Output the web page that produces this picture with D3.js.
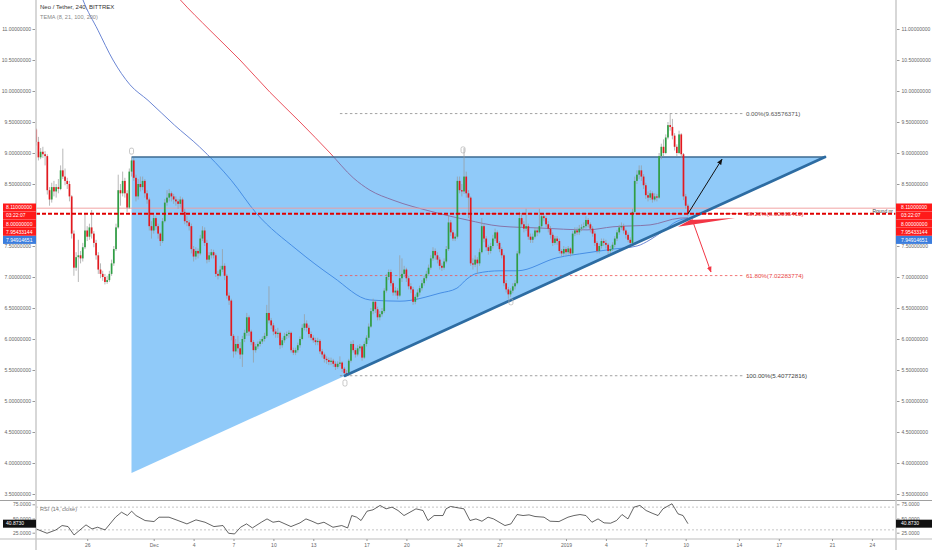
<!DOCTYPE html>
<html><head><meta charset="utf-8">
<script src="https://cdn.jsdelivr.net/npm/d3@7"></script>
<style>
body{margin:0;background:#fff}
svg{display:block}
text{font-family:"Liberation Sans",Arial,sans-serif}
</style>
</head><body>
<svg id="c" width="932" height="550"></svg>
<script>
// ---------------- DATA ----------------
const title = "Neo / Tether, 240, BITTREX";
const indicatorTitle = "TEMA (8, 21, 100, 200)";
const rsiTitle = "RSI (14, close)";
const candleStart = "2018-11-22T04:00:00Z";   // first 4h candle
const candleHours = 4;
// [open, high, low, close]
const candles = [
[9.38,9.40,9.12,9.18],[9.18,9.26,8.88,8.93],[8.93,9.08,8.90,9.02],[9.02,9.10,8.92,8.98],[8.98,9.03,8.80,8.95],
[8.95,8.98,8.33,8.40],[8.40,8.45,8.15,8.25],[8.25,8.52,8.20,8.45],[8.45,8.55,8.30,8.38],[8.38,8.50,8.28,8.45],
[8.45,8.58,8.35,8.42],[8.42,8.80,8.40,8.72],[8.72,9.07,8.58,8.62],[8.62,8.75,8.48,8.55],[8.55,8.60,8.42,8.50],
[8.50,8.55,8.22,8.30],[8.30,8.32,7.62,7.70],[7.70,7.75,7.02,7.15],[7.15,7.40,7.10,7.32],[7.32,7.60,6.92,7.35],
[7.35,7.42,7.22,7.30],[7.30,7.55,7.25,7.48],[7.48,8.02,7.45,7.75],[7.75,7.82,7.58,7.65],[7.65,7.86,7.60,7.80],
[7.80,8.08,7.62,7.70],[7.70,7.74,7.48,7.55],[7.55,7.60,7.28,7.35],[7.35,7.40,7.05,7.12],[7.12,7.22,6.98,7.05],
[7.05,7.10,6.94,7.00],[7.00,7.05,6.88,6.92],[6.92,7.02,6.89,6.95],[6.95,7.10,6.92,7.05],[7.05,7.28,7.02,7.22],
[7.22,7.50,7.18,7.45],[7.45,7.86,7.42,7.80],[7.80,8.65,7.78,8.40],[8.40,8.50,8.15,8.35],[8.35,8.70,8.30,8.55],
[8.55,8.60,8.28,8.35],[8.35,8.40,8.05,8.12],[8.12,8.75,8.10,8.70],[8.70,8.93,8.62,8.88],[8.88,8.92,8.55,8.60],
[8.60,8.65,8.22,8.30],[8.30,8.58,8.25,8.50],[8.50,8.62,8.38,8.45],[8.45,8.62,8.40,8.55],[8.55,8.58,8.28,8.35],
[8.35,8.40,8.18,8.25],[8.25,8.28,7.75,7.82],[7.82,7.90,7.62,7.75],[7.75,8.00,7.70,7.95],[7.95,7.98,7.76,7.82],
[7.82,7.86,7.62,7.70],[7.70,7.72,7.50,7.58],[7.58,7.95,7.55,7.90],[7.90,8.26,7.88,8.20],[8.20,8.40,8.15,8.28],
[8.28,8.42,8.22,8.35],[8.35,8.38,8.22,8.30],[8.30,8.34,8.18,8.25],[8.25,8.30,8.15,8.22],[8.22,8.26,8.10,8.18],
[8.18,8.30,8.12,8.25],[8.25,8.28,8.00,8.05],[8.05,8.10,7.85,7.90],[7.90,7.98,7.82,7.88],[7.88,7.92,7.75,7.82],
[7.82,7.86,7.38,7.45],[7.45,7.50,7.25,7.33],[7.33,7.48,7.28,7.42],[7.42,7.46,7.30,7.38],[7.38,7.68,7.35,7.62],
[7.62,7.82,7.58,7.75],[7.75,7.80,7.50,7.55],[7.55,7.60,7.22,7.28],[7.28,7.40,7.24,7.35],[7.35,7.45,7.30,7.40],
[7.40,7.44,7.30,7.35],[7.35,7.38,7.00,7.05],[7.05,7.10,6.96,7.02],[7.02,7.18,7.00,7.12],[7.12,7.45,7.08,7.18],
[7.18,7.22,6.95,7.02],[7.02,7.05,6.65,6.70],[6.70,6.75,6.55,6.62],[6.62,6.65,5.98,6.05],[6.05,6.08,5.70,5.80],
[5.80,6.00,5.75,5.92],[5.92,6.05,5.78,5.85],[5.85,5.95,5.68,5.75],[5.75,6.05,5.55,6.00],[6.00,6.15,5.95,6.10],
[6.10,6.42,6.05,6.35],[6.35,6.38,6.05,6.12],[6.12,6.15,5.90,5.95],[5.95,5.98,5.62,5.82],[5.82,5.92,5.78,5.88],
[5.88,5.96,5.84,5.92],[5.92,6.00,5.88,5.96],[5.96,6.04,5.92,6.00],[6.00,6.10,5.96,6.05],[6.05,6.55,6.02,6.42],
[6.42,6.85,6.25,6.30],[6.30,6.34,6.16,6.22],[6.22,6.26,6.06,6.12],[6.12,6.16,6.02,6.08],[6.08,6.18,6.02,6.10],
[6.10,6.12,5.84,5.90],[5.90,6.02,5.86,5.98],[5.98,6.10,5.94,6.05],[6.05,6.12,6.00,6.08],[6.08,6.14,6.02,6.10],
[6.10,6.12,5.78,5.82],[5.82,5.86,5.74,5.78],[5.78,5.86,5.74,5.82],[5.82,5.94,5.78,5.90],[5.90,6.04,5.86,6.00],
[6.00,6.24,5.98,6.18],[6.18,6.40,6.14,6.25],[6.25,6.30,6.12,6.18],[6.18,6.22,6.02,6.08],[6.08,6.12,5.98,6.02],
[6.02,6.06,5.94,5.98],[5.98,6.02,5.90,5.95],[5.95,6.02,5.90,5.97],[5.97,6.00,5.76,5.80],[5.80,5.84,5.70,5.75],
[5.75,5.78,5.62,5.68],[5.68,5.72,5.60,5.66],[5.66,5.70,5.58,5.63],[5.63,5.70,5.58,5.65],[5.65,5.68,5.55,5.60],
[5.60,5.64,5.50,5.55],[5.55,5.64,5.52,5.60],[5.60,5.72,5.56,5.62],[5.62,5.64,5.47,5.52],[5.52,5.55,5.41,5.45],
[5.45,5.50,5.408,5.42],[5.42,5.68,5.40,5.65],[5.65,5.96,5.62,5.92],[5.92,5.98,5.78,5.82],[5.82,5.86,5.70,5.75],
[5.75,5.90,5.72,5.85],[5.85,5.92,5.80,5.88],[5.88,5.90,5.65,5.70],[5.70,5.96,5.68,5.92],[5.92,6.06,5.88,6.02],
[6.02,6.25,5.98,6.20],[6.20,6.50,6.18,6.45],[6.45,6.65,6.40,6.60],[6.60,6.62,6.42,6.48],[6.48,6.52,6.30,6.35],
[6.35,6.45,6.30,6.40],[6.40,6.50,6.36,6.45],[6.45,6.82,6.42,6.78],[6.78,7.05,6.75,7.00],[7.00,7.12,6.95,7.08],
[7.08,7.12,6.85,6.90],[6.90,6.94,6.70,6.75],[6.75,6.84,6.70,6.78],[6.78,6.82,6.64,6.70],[6.70,7.35,6.68,6.98],
[6.98,7.30,6.92,7.05],[7.05,7.18,7.00,7.12],[7.12,7.15,6.92,6.98],[6.98,7.02,6.80,6.85],[6.85,6.90,6.74,6.80],
[6.80,6.84,6.55,6.60],[6.60,6.72,6.56,6.68],[6.68,6.80,6.64,6.75],[6.75,6.86,6.70,6.82],[6.82,6.95,6.78,6.90],
[6.90,7.02,6.86,6.98],[6.98,7.10,6.94,7.05],[7.05,7.20,7.02,7.15],[7.15,7.35,7.12,7.30],[7.30,7.48,7.26,7.42],
[7.42,7.46,7.28,7.35],[7.35,7.40,7.22,7.28],[7.28,7.32,7.12,7.18],[7.18,7.22,7.10,7.15],[7.15,7.30,7.12,7.25],
[7.25,7.50,7.22,7.45],[7.45,8.00,7.42,7.88],[7.88,7.92,7.66,7.72],[7.72,7.76,7.58,7.62],[7.62,7.70,7.58,7.65],
[7.65,8.62,7.62,8.55],[8.55,8.62,8.35,8.40],[8.40,8.50,8.30,8.38],[8.38,9.08,8.34,8.62],[8.62,8.70,8.28,8.35],
[8.35,8.40,7.95,8.28],[8.28,8.30,7.18,7.22],[7.22,7.30,7.12,7.20],[7.20,7.35,7.16,7.28],[7.28,7.32,7.05,7.22],
[7.22,7.46,7.18,7.40],[7.40,7.95,7.38,7.82],[7.82,7.86,7.56,7.62],[7.62,7.66,7.42,7.48],[7.48,7.52,7.36,7.42],
[7.42,7.55,7.38,7.50],[7.50,7.68,7.46,7.62],[7.62,7.78,7.58,7.72],[7.72,7.75,7.50,7.55],[7.55,7.58,7.40,7.45],
[7.45,7.48,7.30,7.35],[7.35,7.38,6.85,6.90],[6.90,6.95,6.75,6.80],[6.80,6.84,6.65,6.72],[6.72,6.82,6.68,6.78],
[6.78,6.90,6.74,6.85],[6.85,6.95,6.80,6.90],[6.90,7.42,6.88,7.38],[7.38,8.05,7.35,7.95],[7.95,8.02,7.80,7.85],
[7.85,7.90,7.72,7.78],[7.78,8.10,7.74,7.82],[7.82,7.86,7.60,7.65],[7.65,7.70,7.55,7.60],[7.60,7.70,7.55,7.65],
[7.65,7.80,7.62,7.75],[7.75,7.80,7.66,7.72],[7.72,8.10,7.70,7.82],[7.82,8.03,7.78,7.98],[7.98,8.02,7.90,7.95],
[7.95,7.98,7.80,7.85],[7.85,7.90,7.72,7.78],[7.78,7.82,7.62,7.68],[7.68,7.72,7.50,7.55],[7.55,7.66,7.52,7.62],
[7.62,7.66,7.52,7.58],[7.58,7.62,7.38,7.42],[7.42,7.45,7.33,7.38],[7.38,7.50,7.34,7.45],[7.45,7.48,7.35,7.40],
[7.40,7.50,7.36,7.46],[7.46,7.48,7.33,7.38],[7.38,7.74,7.36,7.70],[7.70,7.80,7.66,7.75],[7.75,7.80,7.68,7.72],
[7.72,7.84,7.68,7.78],[7.78,7.85,7.74,7.80],[7.80,7.88,7.76,7.82],[7.82,7.98,7.78,7.92],[7.92,7.95,7.80,7.85],
[7.85,7.88,7.72,7.78],[7.78,7.82,7.65,7.70],[7.70,7.74,7.50,7.55],[7.55,7.58,7.38,7.42],[7.42,7.54,7.38,7.50],
[7.50,7.62,7.46,7.58],[7.58,7.62,7.50,7.55],[7.55,7.60,7.46,7.52],[7.52,7.55,7.36,7.42],[7.42,7.50,7.38,7.45],
[7.45,7.56,7.42,7.52],[7.52,7.66,7.48,7.62],[7.62,7.76,7.58,7.72],[7.72,7.84,7.68,7.80],[7.80,7.88,7.76,7.82],
[7.82,7.86,7.70,7.75],[7.75,7.78,7.62,7.68],[7.68,7.72,7.56,7.60],[7.60,7.64,7.50,7.55],[7.55,8.10,7.52,8.05],
[8.05,8.62,8.02,8.55],[8.55,8.72,8.50,8.65],[8.65,8.80,8.58,8.72],[8.72,8.80,8.55,8.62],[8.62,8.66,8.42,8.48],
[8.48,8.52,8.26,8.32],[8.32,8.38,8.22,8.28],[8.28,8.40,8.24,8.35],[8.35,8.38,8.20,8.25],[8.25,8.35,8.22,8.30],
[8.30,8.34,8.22,8.28],[8.28,9.00,8.26,8.95],[8.95,9.15,8.90,9.10],[9.10,9.22,8.95,9.00],[9.00,9.30,8.98,9.25],
[9.25,9.50,9.22,9.45],[9.45,9.64,9.36,9.42],[9.42,9.55,9.22,9.28],[9.28,9.32,9.04,9.10],[9.10,9.14,8.95,9.00],
[9.00,9.36,8.98,9.30],[9.30,9.32,8.92,8.98],[8.98,9.00,8.24,8.30],[8.30,8.34,8.10,8.15],[8.15,8.18,7.98,8.02]
];
const priceTicks = [3.5,4,4.5,5,5.5,6,6.5,7,7.5,8,8.5,9,9.5,10,10.5,11];
const hiddenPriceTick = 8;          // covered by the price tags
const rsiTicks = [25,50,75];
const timeTickDates  = ["2018-11-26","2018-12-01","2018-12-04","2018-12-07","2018-12-10","2018-12-13","2018-12-17","2018-12-20","2018-12-24","2018-12-27","2019-01-01","2019-01-04","2019-01-07","2019-01-10","2019-01-14","2019-01-17","2019-01-21","2019-01-24"];
const timeTickLabels = ["26","Dec","4","7","10","13","17","20","24","27","2019","4","7","10","14","17","21","24"];
// indicator lines: days relative to 2019-01-01 and values
const temaBlueDays = [-36.84,-36.32,-35.19,-34.06,-32.78,-31.43,-29.44,-27.56,-25.17,-23.29,-20.23,-17.52,-14.74,-12.48,-9.47,-8.20,-7.44,-6.69,-4.96,-3.68,-0.68,1.58,3.53,5.34,6.32,7.29,8.35,9.17];
const temaBlueVals = [11.79,11.47,10.98,10.50,10.10,9.85,9.45,9.10,8.56,8.03,7.44,7.00,6.63,6.61,6.74,6.82,6.97,7.06,7.10,7.10,7.31,7.39,7.45,7.50,7.60,7.74,7.90,7.949];
const temaRedDays = [-29.77,-29.0,-26.77,-24.51,-22.26,-20.0,-17.74,-16.0,-14.74,-13.01,-10.0,-7.44,-4.96,-1.95,1.58,3.53,6.32,8.57,9.17];
const temaRedVals = [11.66,11.47,10.98,10.50,9.98,9.50,9.00,8.60,8.40,8.24,8.05,7.92,7.82,7.79,7.76,7.81,7.84,7.95,7.954];
const rsiDays = [-39.83,-39.02,-38.35,-37.89,-37.44,-36.99,-36.54,-36.09,-35.64,-35.22,-34.66,-33.87,-33.42,-32.98,-32.66,-32.33,-31.65,-30.98,-30.6,-29.85,-29.17,-28.5,-27.82,-27.14,-26.47,-25.79,-25.37,-24.92,-24.47,-24.02,-23.58,-22.91,-22.48,-22.03,-21.58,-21.13,-20.68,-20.0,-19.55,-19.1,-18.65,-18.2,-17.52,-16.86,-16.42,-16.11,-15.74,-15.41,-14.96,-14.51,-13.98,-13.53,-13.08,-12.63,-12.18,-11.73,-11.28,-10.75,-10.38,-9.92,-9.25,-9.02,-8.68,-8.12,-7.67,-7.22,-6.77,-6.32,-5.86,-5.45,-4.59,-4.14,-3.68,-3.23,-2.78,-2.33,-1.65,-1.2,-0.53,0.15,0.6,1.05,1.5,1.95,2.41,2.86,3.35,3.8,4.21,4.66,5.11,5.56,6.02,6.47,6.92,7.29,7.74,7.97,8.2,8.42,8.8,9.17];
const rsiVals = [31.6,24,29.9,37.6,35.8,21.0,29.9,38.8,31.6,34.6,29.9,52.3,61.1,55.2,62.9,55.2,46.4,44.6,52.3,52.3,46.4,40.5,47.6,43.4,35.8,37.6,24.0,22.8,34.6,40.5,33.4,43.4,49.3,43.4,45.2,40.5,35.8,42.3,49.3,45.2,40.5,43.4,34.6,37.6,33.4,55.2,52.3,46.4,62.9,65.3,73.0,67.0,70.0,64.1,55.2,61.1,67.0,64.1,46.4,55.2,55.2,67.0,71.2,68.8,67.0,46.4,49.3,45.2,52.3,49.3,37.6,40.5,57.0,55.2,56.4,53.5,52.3,45.2,44.6,52.3,55.2,57.0,55.2,43.4,49.3,42.3,41.7,46.4,57.0,49.3,70.0,73.0,64.1,59.4,55.2,67.0,73.0,75.9,67.0,58.2,55.2,40.873];
const rsiBands = [70,30];
// Fibonacci retracement
const fibRatios = ["0.00%","38.20%","61.80%","100.00%"];
const fibValues = [9.63576371,8.02065412,7.02283774,5.40772816];
const fibFromDay = -17.0, fibToDay = 13.3;
// ascending triangle (days rel. 2019-01-01)
const triStartDay = -32.667, triApexDay = 19.47, triTop = 8.935, triBottomLeft = 3.84;
const trendLow = [-16.62, 5.40772816];
// horizontal level
const roundLevel = 8.11, roundLabel = "Round nr";
const lastPrice = 8.02;
// annotations [day, price]
const arrowUp = [[9.17,8.02],[11.73,8.90]];
const arrowDown = [[9.47,7.935],[10.9,7.08]];
const wedge = [[8.42,7.81],[9.32,7.92],[12.71,7.95]];
const pivotMarks = [[-32.667,9.03],[-7.74,9.05],[-16.62,5.29],[-4.14,6.60]];
// price scale tags
const tagTexts = ["8.11000000","03:22:07","8.00000000","7.95433144","7.94914651"];
const rsiTag = "40.8730";

// ---------------- CHART ----------------
const svg = d3.select("#c");
const W = 932, H = 550;
const X0 = 36, X1 = 896, mainBottom = 500, rsiTop = 501, rsiBottom = 539;
const DAY = 86400000, base = Date.UTC(2019,0,1);
const dd = d => new Date(base + d*DAY);
const x = d3.scaleUtc().domain([new Date(Date.UTC(2018,10,26)), new Date(Date.UTC(2019,0,24))]).range([87.2, 871.9]);
const y = d3.scaleLinear().domain([3.5,11]).range([494,29]);
const yr = d3.scaleLinear().domain([25,75]).range([532.7,504.3]);
const FS = 5;

const defs = svg.append("defs");
defs.append("clipPath").attr("id","mainClip").append("rect").attr("x",X0).attr("y",0).attr("width",X1-X0).attr("height",mainBottom);
defs.append("clipPath").attr("id","rsiClip").append("rect").attr("x",X0).attr("y",rsiTop).attr("width",X1-X0).attr("height",rsiBottom-rsiTop);
function marker(id,color){
  defs.append("marker").attr("id",id).attr("viewBox","0 0 10 10").attr("refX",9).attr("refY",5)
   .attr("markerWidth",6).attr("markerHeight",6).attr("orient","auto-start-reverse")
   .append("path").attr("d","M0,1 L10,5 L0,9 z").attr("fill",color);
}
marker("ahBlack","#111"); marker("ahRed","#f23645");

const main = svg.append("g").attr("clip-path","url(#mainClip)");

// indicator lines
const lineGen = d3.line().x(d=>x(dd(d[0]))).y(d=>y(d[1])).curve(d3.curveMonotoneX);
main.append("path").datum(d3.zip(temaBlueDays,temaBlueVals)).attr("d",lineGen)
  .attr("fill","none").attr("stroke","#5a78cf").attr("stroke-width",0.9);
main.append("path").datum(d3.zip(temaRedDays,temaRedVals)).attr("d",lineGen)
  .attr("fill","none").attr("stroke","#e8404c").attr("stroke-width",0.9);

// triangle
const triPts = [[triStartDay,triTop],[triApexDay,triTop],[triStartDay,triBottomLeft]];
main.append("path").attr("d","M"+triPts.map(p=>[x(dd(p[0])),y(p[1])].join(",")).join("L")+"Z")
  .attr("fill","rgba(33,150,243,0.5)").attr("stroke","none");
main.append("line").attr("x1",x(dd(triStartDay))).attr("x2",x(dd(triApexDay)))
  .attr("y1",y(triTop)).attr("y2",y(triTop)).attr("stroke","#3c6a90").attr("stroke-width",1.4);

// fib lines
const fibColors = ["#8a8a8a","#f05555","#f05555","#8a8a8a"];
fibValues.forEach((v,i)=>{
  main.append("line").attr("x1",x(dd(fibFromDay))).attr("x2",x(dd(fibToDay)))
   .attr("y1",y(v)).attr("y2",y(v)).attr("stroke",fibColors[i]).attr("stroke-width",0.8)
   .attr("stroke-dasharray","2.5,2.5");
});

// round number line
main.append("line").attr("x1",X0).attr("x2",X1).attr("y1",y(roundLevel)).attr("y2",y(roundLevel))
  .attr("stroke","#f19a9a").attr("stroke-width",0.9);

// candles
const t0 = Date.parse(candleStart);
const cw = 1.7;
const cg = main.append("g");
candles.forEach((c,i)=>{
  const t = new Date(t0 + i*candleHours*3600000);
  const cx = x(t);
  const [o,h,l,cl] = c;
  const up = cl >= o;
  cg.append("line").attr("x1",cx).attr("x2",cx).attr("y1",y(h)).attr("y2",y(l))
    .attr("stroke","#9a9a9a").attr("stroke-width",0.7);
  const top = y(Math.max(o,cl)), bot = y(Math.min(o,cl));
  cg.append("rect").attr("x",cx-cw/2).attr("width",cw).attr("y",top).attr("height",Math.max(0.8,bot-top))
    .attr("fill",up?"#2f9e44":"#e3191f");
});

// ascending trend line
main.append("line").attr("x1",x(dd(trendLow[0]))).attr("y1",y(trendLow[1]))
  .attr("x2",x(dd(triApexDay))).attr("y2",y(triTop))
  .attr("stroke","#2d6ca2").attr("stroke-width",2.8).attr("stroke-linecap","round");

// last price dashed line
main.append("line").attr("x1",X0).attr("x2",X1).attr("y1",y(lastPrice)).attr("y2",y(lastPrice))
  .attr("stroke","#e00000").attr("stroke-width",1.8).attr("stroke-dasharray","4,2");

// wedge & arrows
main.append("path").attr("d","M"+wedge.map(p=>[x(dd(p[0])),y(p[1])].join(",")).join("L")+"Z")
  .attr("fill","#f23645");
main.append("line").attr("x1",x(dd(arrowUp[0][0]))).attr("y1",y(arrowUp[0][1]))
  .attr("x2",x(dd(arrowUp[1][0]))).attr("y2",y(arrowUp[1][1]))
  .attr("stroke","#111").attr("stroke-width",1).attr("marker-end","url(#ahBlack)");
main.append("line").attr("x1",x(dd(arrowDown[0][0]))).attr("y1",y(arrowDown[0][1]))
  .attr("x2",x(dd(arrowDown[1][0]))).attr("y2",y(arrowDown[1][1]))
  .attr("stroke","#f23645").attr("stroke-width",1).attr("marker-end","url(#ahRed)");

// pivot marks
pivotMarks.forEach(p=>{
  main.append("rect").attr("x",x(dd(p[0]))-2).attr("y",y(p[1])-3).attr("width",4).attr("height",6)
   .attr("rx",1.5).attr("fill","none").attr("stroke","#b0b0b0").attr("stroke-width",0.7);
});

// fib labels
const fibLabelColors = ["#555","#e84545","#e84545","#444"];
fibValues.forEach((v,i)=>{
  svg.append("text").attr("x",x(dd(fibToDay))+3).attr("y",y(v)+2.2)
   .attr("font-size",6.2).attr("fill",fibLabelColors[i]).text(fibRatios[i]+"("+v.toFixed(8)+")");
});
svg.append("text").attr("x",X1-3).attr("y",y(roundLevel)+4.5).attr("text-anchor","end")
  .attr("font-size",5).attr("fill","#444").text(roundLabel);

// legend
svg.append("text").attr("x",40).attr("y",9).attr("font-size",6).attr("fill","#333").text(title);
svg.append("text").attr("x",40).attr("y",18.5).attr("font-size",5.6).attr("fill","#888").text(indicatorTitle);

// ---------- RSI panel ----------
const rsi = svg.append("g").attr("clip-path","url(#rsiClip)");
rsiBands.forEach(b=>{
  rsi.append("line").attr("x1",X0).attr("x2",X1).attr("y1",yr(b)).attr("y2",yr(b))
   .attr("stroke","#b8b8b8").attr("stroke-width",0.8).attr("stroke-dasharray","2,2");
});
rsi.append("path").datum(d3.zip(rsiDays,rsiVals))
  .attr("d",d3.line().x(d=>x(dd(d[0]))).y(d=>yr(d[1])))
  .attr("fill","none").attr("stroke","#222").attr("stroke-width",0.7);
svg.append("text").attr("x",40).attr("y",511).attr("font-size",5.6).attr("fill","#777").text(rsiTitle);

// ---------- frame ----------
svg.append("line").attr("x1",0).attr("x2",W).attr("y1",500.5).attr("y2",500.5).attr("stroke","#a0a0a0").attr("stroke-width",1);
svg.append("line").attr("x1",0).attr("x2",W).attr("y1",rsiBottom).attr("y2",rsiBottom).attr("stroke","#bdbdbd").attr("stroke-width",1);
[X0,X1].forEach(xx=>svg.append("line").attr("x1",xx).attr("x2",xx).attr("y1",0).attr("y2",H)
  .attr("stroke","#c6c6c6").attr("stroke-width",1.4));

// ---------- axes ----------
function styleAxis(g){
  g.select(".domain").remove();
  g.selectAll("line").attr("stroke","#999");
  g.selectAll("text").attr("font-size",FS).attr("fill","#666").attr("font-family","Liberation Sans, Arial, sans-serif");
}
const fmt8 = d => d === hiddenPriceTick ? "" : d3.format(".8f")(d);
const fmt4 = d3.format(".4f");
svg.append("g").attr("transform",`translate(${X0-1},0)`).call(d3.axisLeft(y).tickValues(priceTicks).tickFormat(fmt8).tickSize(2.5).tickPadding(1.5)).call(styleAxis);
svg.append("g").attr("transform",`translate(${X1+1},0)`).call(d3.axisRight(y).tickValues(priceTicks).tickFormat(fmt8).tickSize(2.5).tickPadding(2)).call(styleAxis);
svg.append("g").attr("transform",`translate(${X0-1},0)`).call(d3.axisLeft(yr).tickValues(rsiTicks).tickFormat(fmt4).tickSize(2.5).tickPadding(1.5)).call(styleAxis);
svg.append("g").attr("transform",`translate(${X1+1},0)`).call(d3.axisRight(yr).tickValues(rsiTicks).tickFormat(fmt4).tickSize(2.5).tickPadding(2)).call(styleAxis);
const tickDates = timeTickDates.map(s=>new Date(s+"T00:00:00Z"));
svg.append("g").attr("transform",`translate(0,${rsiBottom})`)
  .call(d3.axisBottom(x).tickValues(tickDates).tickFormat((d,i)=>timeTickLabels[i]).tickSize(2).tickPadding(2.5))
  .call(styleAxis);

// ---------- price tags ----------
const tagColors = ["#ff1a1a","#ff1a1a","#ff1a1a","#ff1a1a","#3b7ddd"];
const tagYs = [207.5,215.6,223.7,231.8,239.9];
tagTexts.forEach((t,i)=>{
  [[X1,W-X1,X1+5],[3,X0-3,6]].forEach(([bx,bw,tx])=>{
    svg.append("rect").attr("x",bx).attr("y",tagYs[i]-4).attr("width",bw).attr("height",8).attr("fill",tagColors[i]);
    svg.append("text").attr("x",tx).attr("y",tagYs[i]+1.8).attr("font-size",FS).attr("fill","#fff").text(t);
  });
});
[[X1,W-X1,X1+5],[3,X0-3,6]].forEach(([bx,bw,tx])=>{
  const yy = yr(rsiVals[rsiVals.length-1]);
  svg.append("rect").attr("x",bx).attr("y",yy-4).attr("width",bw).attr("height",8).attr("fill","#111");
  svg.append("text").attr("x",tx).attr("y",yy+1.8).attr("font-size",FS).attr("fill","#fff").text(rsiTag);
});
</script>
</body></html>
